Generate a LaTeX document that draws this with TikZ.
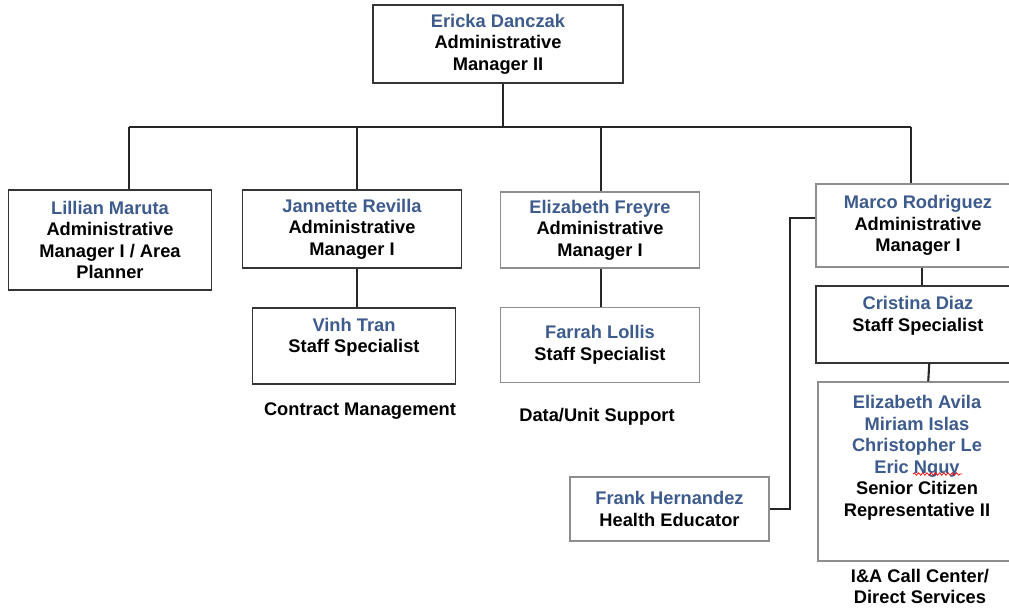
\documentclass[tikz,border=0pt]{standalone}
\usepackage{fontspec}
\setmainfont{Liberation Sans}
\usetikzlibrary{decorations.pathmorphing}
\definecolor{nameblue}{HTML}{3D5B8C}
\definecolor{boxgray}{HTML}{8E8E8E}
\definecolor{boxdark}{HTML}{353535}
\newcommand{\person}[1]{{\color{nameblue}#1}}

\begin{document}
\begin{tikzpicture}[x=0.025cm, y=-0.025cm,
  every node/.style={font=\fontsize{13}{15.3}\selectfont\bfseries, align=center, inner sep=0pt},
  box/.style 2 args={draw=boxdark, line width=1pt, minimum width=#1*0.025cm, minimum height=#2*0.025cm},
  lightbox/.style={draw=boxgray},
  link/.style={line width=1.5pt, black!85}]

\useasboundingbox (0,0) rectangle (1009,608);
\clip (0,0) rectangle (1009,608);

% top level
\node[box={250}{78}] (ericka) at (498,44) {\person{Ericka Danczak}\\Administrative\\Manager II};

% second level
\node[box={203}{100}] (lillian) at (110,240) {\person{Lillian Maruta}\\Administrative\\Manager I / Area\\Planner};
\node[box={219}{78}] (jannette) at (352,229) {\person{Jannette Revilla}\\Administrative\\Manager I};
\node[box={199}{76},lightbox] (freyre) at (600,230) {\person{Elizabeth Freyre}\\Administrative\\Manager I};
\node[box={204}{83},lightbox] (marco) at (918,225.5) {\person{Marco Rodriguez}\\Administrative\\Manager I};

% staff
\node[box={203}{76}] (vinh) at (354,346) {\person{Vinh Tran}\\Staff Specialist\\~};
\node (contract) at (360,411) {Contract Management};
\node[box={199}{75},lightbox] (farrah) at (600,345) {\person{Farrah Lollis}\\Staff Specialist};
\node (datasupport) at (597,417) {Data/Unit Support};
\node[box={204}{77}] (cristina) at (918,324.5) {\person{Cristina Diaz}\\Staff Specialist\\~};
\node[box={198}{179},lightbox] (avila) at (917,471.5) {\person{Elizabeth Avila}\\\person{Miriam Islas}\\\person{Christopher Le}\\\person{Eric Nguy}\\Senior Citizen\\Representative II\\[7pt]~};
\node (callcenter) at (920,586.5) {I\&A Call Center/\\Direct Services};
\node[box={199}{64},lightbox] (frank) at (669.5,509) {\person{Frank Hernandez}\\Health Educator};

% connectors
\coordinate (hub) at (503,127);
\foreach \n/\x in {lillian/129, jannette/357, freyre/601, marco/911}
  \coordinate (bus-\n) at (\x,127);
\draw[link] (hub |- ericka.south) -- (hub);
\draw[link] (bus-lillian) -- (bus-marco);
\foreach \n in {lillian, jannette, freyre, marco}
  \draw[link] (bus-\n) -- (bus-\n |- \n.north);
\draw[link] (bus-jannette |- jannette.south) -- (bus-jannette |- vinh.north);
\draw[link] (bus-freyre |- freyre.south) -- (bus-freyre |- farrah.north);
\draw[link] ([xshift=3pt]marco.south) -- ([xshift=3pt]cristina.north);
\draw[link] ([xshift=8pt]cristina.south) -- ([xshift=8pt]avila.north);
\coordinate (elbow) at (790,218);
\draw[link] (marco.west |- elbow) -- (elbow) |- (frank.east);

% spell check mark
\draw[red, line width=0.5pt, decorate, decoration={snake, amplitude=0.9pt, segment length=3pt}] (913,474) -- (962,474);

\end{tikzpicture}
\end{document}
